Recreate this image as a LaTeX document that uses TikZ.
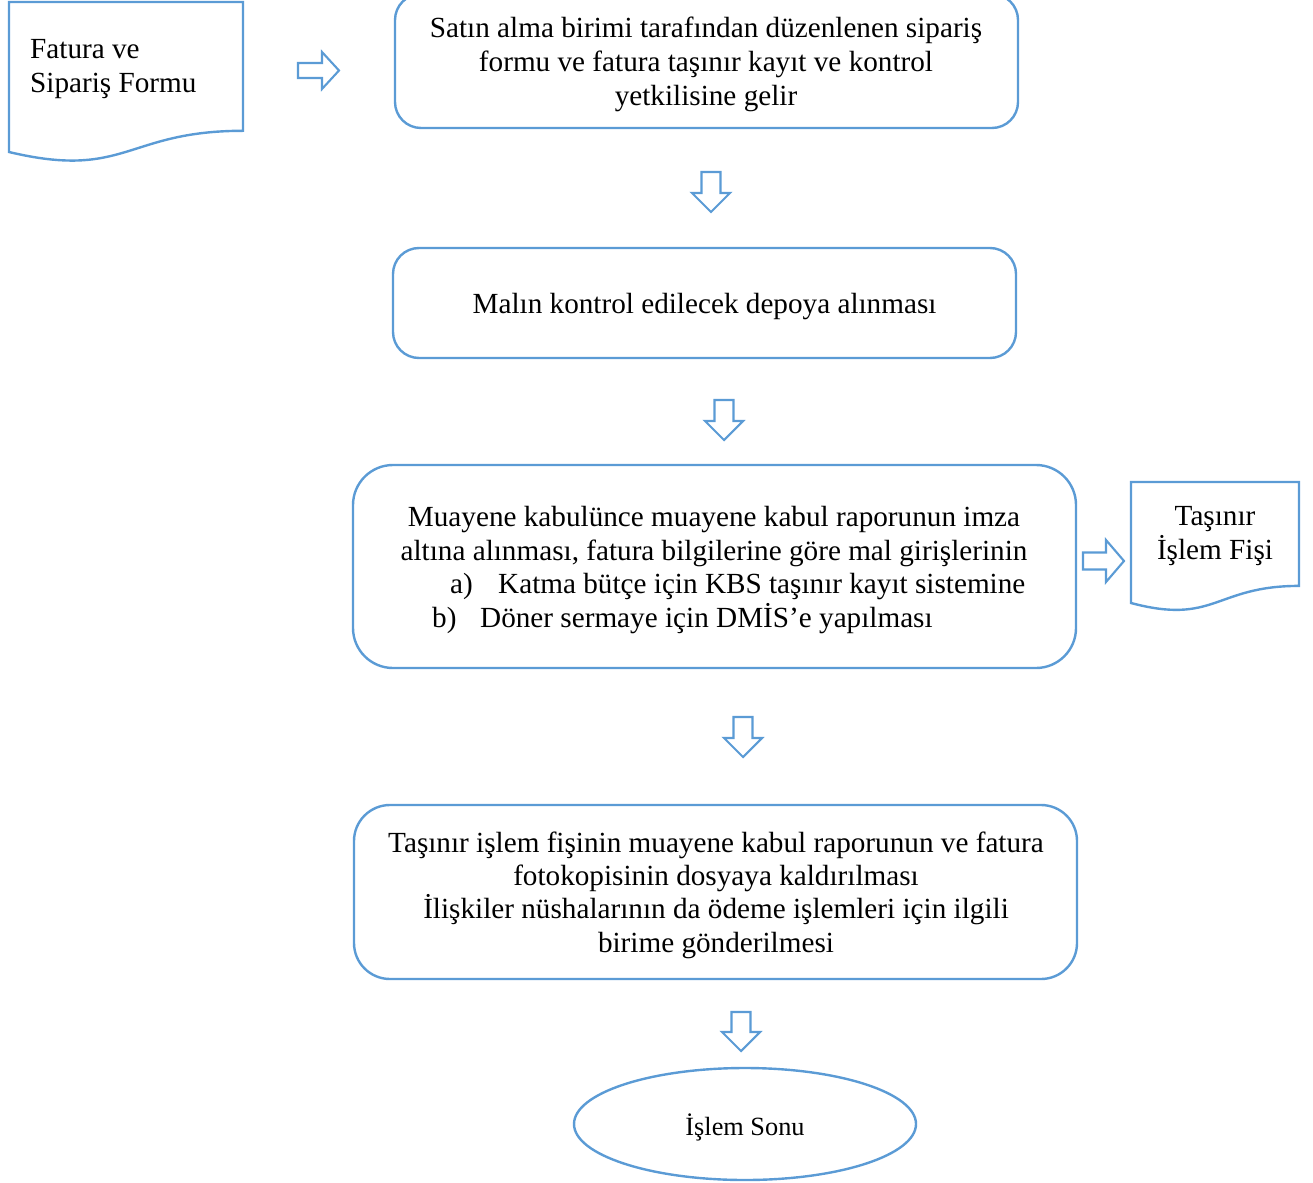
\documentclass[tikz,border=0pt]{standalone}
\usepackage{fontspec}
\setmainfont{Liberation Serif}
\usetikzlibrary{shapes.geometric}
\definecolor{wblue}{HTML}{5B9BD5}
\tikzset{
  bl/.style={draw=wblue,line width=2.4pt},
  arr/.style={draw=wblue,line width=2.1pt,line join=miter},
  procbox/.style={bl,rounded corners=26pt},
  txt/.style={font=\fontsize{29.2}{34}\selectfont,align=center,inner sep=0pt,text=black},
}
\newcommand\dnarrow[4]{% name, cx, top, tip
  \coordinate (#1) at (#2,#3);
  \draw[arr] (#2-9.5,#3) -- (#2+9.5,#3) -- (#2+9.5,#4-19) -- (#2+19,#4-19) -- (#2,#4) -- (#2-19,#4-19) -- (#2-9.5,#4-19) -- cycle;}
\newcommand\rtarrow[7]{% name, left, cy, tip, shaft half, head half, head length
  \coordinate (#1) at (#2,#3);
  \draw[arr] (#2,#3-#5) -- (#4-#7,#3-#5) -- (#4-#7,#3-#6) -- (#4,#3) -- (#4-#7,#3+#6) -- (#4-#7,#3+#5) -- (#2,#3+#5) -- cycle;}
\begin{document}
\begin{tikzpicture}[x=1pt,y=-1pt]
\useasboundingbox (0,0) rectangle (1313,1182);
% document 1
\draw[bl] (9,2) -- (243,2) -- (243,130.8) .. controls (126,130.8) and (126,179.9) .. (9,152) -- cycle;
\node[txt,anchor=west,align=left] (doc1) at (30,69) {Fatura ve\\Sipariş Formu};
% box 1
\node[procbox,minimum width=623pt,minimum height=134pt] (b1) at (706.5,61) {};
\node[txt] (t1) at (706,64) {Satın alma birimi tarafından düzenlenen sipariş\\formu ve fatura taşınır kayıt ve kontrol\\yetkilisine gelir};
% box 2
\node[procbox,minimum width=623pt,minimum height=110pt] (b2) at (704.5,303) {};
\node[txt] (t2) at (704.5,307) {Malın kontrol edilecek depoya alınması};
% box 3
\node[procbox,rounded corners=40pt,minimum width=723pt,minimum height=203pt] (b3) at (714.5,566.5) {};
\node[txt] (t3) at (714,537) {Muayene kabulünce muayene kabul raporunun imza\\altına alınması, fatura bilgilerine göre mal girişlerinin};
\node[txt,anchor=base west] (t3a) at (450,593) {a)};
\node[txt,anchor=base west] (t3ax) at (498,593) {Katma bütçe için KBS taşınır kayıt sistemine};
\node[txt,anchor=base west] (t3b) at (432,627.5) {b)};
\node[txt,anchor=base west] (t3bx) at (480,627.5) {Döner sermaye için DMİS’e yapılması};
% document 2
\draw[bl] (1131,482) -- (1299,482) -- (1299,585.9) .. controls (1215,585.9) and (1215,625.4) .. (1131,603) -- cycle;
\node[txt] (doc2) at (1215,536) {Taşınır\\İşlem Fişi};
% box 4
\node[procbox,rounded corners=36pt,minimum width=723pt,minimum height=174pt] (b4) at (715.5,892) {};
\node[txt,font=\fontsize{29.2}{33.4}\selectfont] (t4) at (716,895) {Taşınır işlem fişinin muayene kabul raporunun ve fatura\\fotokopisinin dosyaya kaldırılması\\İlişkiler nüshalarının da ödeme işlemleri için ilgili\\birime gönderilmesi};
% end ellipse
\node[ellipse,bl,minimum width=342pt,minimum height=112pt] (end) at (745,1124) {};
\node[txt,font=\fontsize{26.3}{30}\selectfont] (tend) at (745,1127) {İşlem Sonu};
% block arrows
\rtarrow{a1}{298}{70.5}{339}{7.5}{18.5}{17}
\dnarrow{a2}{711}{172}{212}
\dnarrow{a3}{724}{400}{440}
\rtarrow{a4}{1083}{561}{1124}{8.5}{21}{18}
\dnarrow{a5}{743}{717}{757}
\dnarrow{a6}{741}{1012}{1051}
\end{tikzpicture}
\end{document}
